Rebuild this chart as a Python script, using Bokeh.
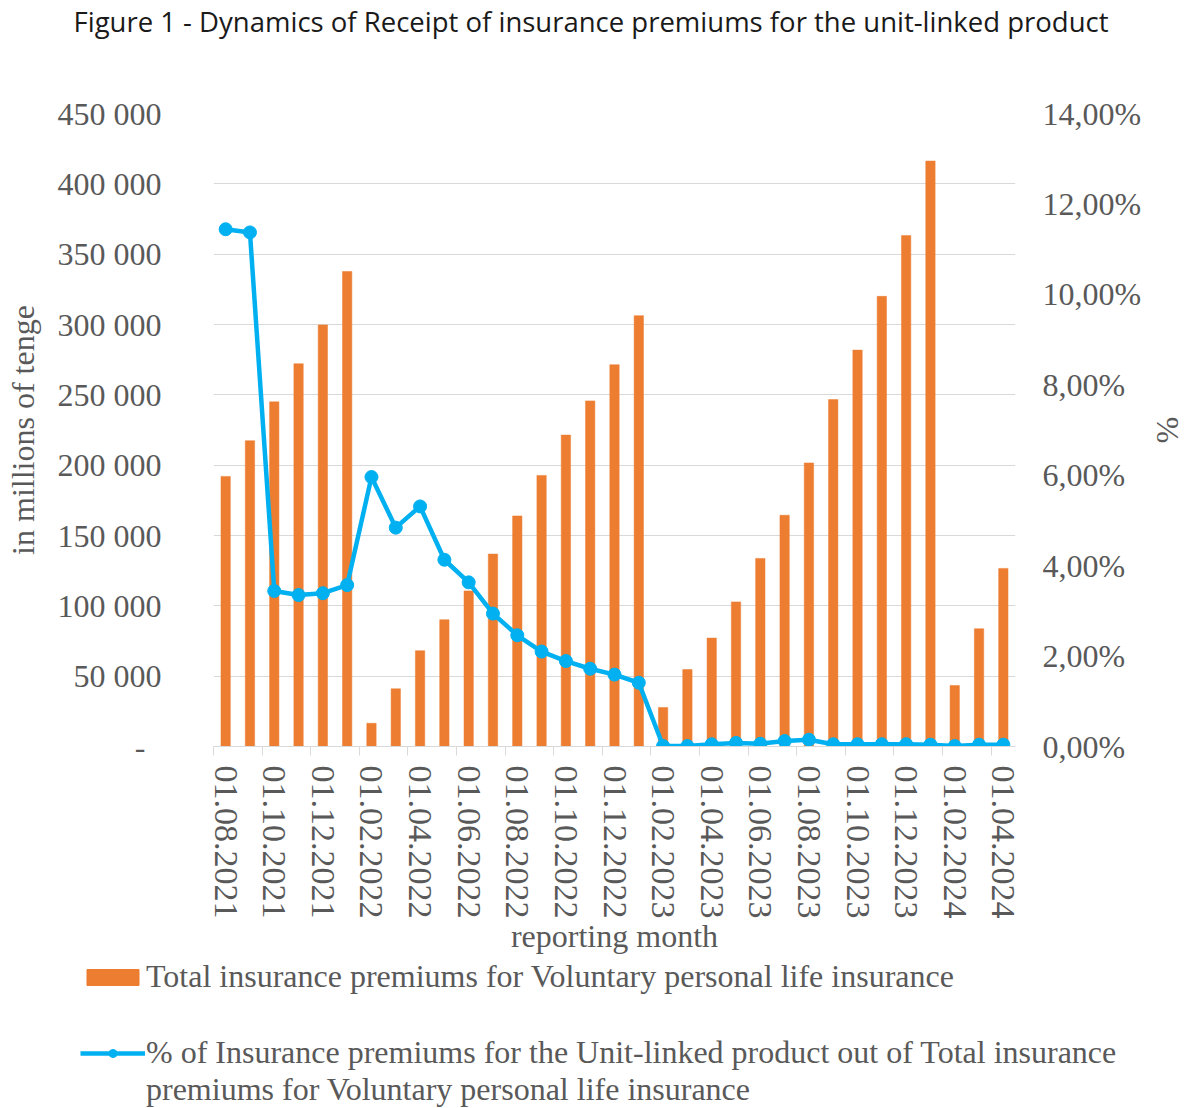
from bokeh.plotting import figure
from bokeh.layouts import column
from bokeh.models import Range1d, LinearAxis, FixedTicker, Legend, LegendItem, Title
from bokeh.embed import file_html
from bokeh.resources import INLINE

# ---- data ----
months = [
    "01.08.2021", "01.09.2021", "01.10.2021", "01.11.2021", "01.12.2021",
    "01.01.2022", "01.02.2022", "01.03.2022", "01.04.2022", "01.05.2022",
    "01.06.2022", "01.07.2022", "01.08.2022", "01.09.2022", "01.10.2022",
    "01.11.2022", "01.12.2022", "01.01.2023", "01.02.2023", "01.03.2023",
    "01.04.2023", "01.05.2023", "01.06.2023", "01.07.2023", "01.08.2023",
    "01.09.2023", "01.10.2023", "01.11.2023", "01.12.2023", "01.01.2024",
    "01.02.2024", "01.03.2024", "01.04.2024",
]
premiums = [
    192000, 217400, 245000, 272100, 299700, 337700,
    16500, 41000, 68100, 90100, 110600, 136800, 163900, 192700, 221400, 245700, 271400, 306300,
    27800, 54700, 77100, 102800, 133700, 164400, 201600, 246600, 281800, 320000, 363200, 416200,
    43400, 83700, 126600,
]
unit_linked_pct = [
    11.44, 11.37, 3.44, 3.35, 3.39, 3.57,
    5.96, 4.84, 5.31, 4.13, 3.63, 2.94, 2.46, 2.10, 1.89, 1.72, 1.59, 1.41,
    0.01, 0.01, 0.05, 0.08, 0.06, 0.12, 0.15, 0.05, 0.05, 0.05, 0.05, 0.04,
    0.01, 0.04, 0.04,
]
left_ticks = [0, 50000, 100000, 150000, 200000, 250000, 300000, 350000, 400000, 450000]
right_ticks = [0, 2, 4, 6, 8, 10, 12, 14]

title_text = "Figure 1 - Dynamics of Receipt of insurance premiums for the unit-linked product"
bar_label = "Total insurance premiums for Voluntary personal life insurance"
line_label_1 = "% of Insurance premiums for the Unit-linked product out of Total insurance"
line_label_2 = "premiums for Voluntary personal life insurance"

ORANGE = "#ED7D31"
BLUE = "#00B0F0"
GREY_TXT = "#595959"
GRID = "#D9D9D9"
SERIF = "Liberation Serif"

x = list(range(len(months)))

# ================= main chart =================
p = figure(width=1190, height=956, output_backend="svg", toolbar_location=None,
           title=None,
           x_range=Range1d(-0.5, len(months) - 0.5),
           y_range=Range1d(left_ticks[0], left_ticks[-1]),
           min_border_left=213, min_border_right=175,
           min_border_top=112, min_border_bottom=209)
p.frame_align = False
p.outline_line_color = None
p.background_fill_color = "white"
p.border_fill_color = "white"

p.extra_y_ranges = {"pct": Range1d(right_ticks[0], right_ticks[-1])}

bars = p.vbar(x=x, top=premiums, width=0.385, fill_color=ORANGE, line_color=ORANGE, line_width=0.5)
ln = p.line(x=x, y=unit_linked_pct, y_range_name="pct", line_color=BLUE, line_width=4.5)
sc = p.scatter(x=x, y=unit_linked_pct, y_range_name="pct", size=13, marker="circle",
               fill_color=BLUE, line_color=BLUE)

# x axis
xa = p.xaxis[0]
xa.ticker = FixedTicker(ticks=x[::2], minor_ticks=[i - 0.5 for i in x[::2]])
xa.major_label_overrides = {i: months[i] for i in x[::2]}
xa.major_label_orientation = "vertical"
xa.major_tick_line_color = None
xa.major_tick_out = 0
xa.major_tick_in = 0
xa.minor_tick_line_color = GRID
xa.minor_tick_out = 9
xa.minor_tick_in = 0
xa.axis_line_color = GRID
xa.major_label_standoff = 10
xa.major_label_text_font = SERIF
xa.major_label_text_font_size = "34px"
xa.major_label_text_color = GREY_TXT
xa.axis_label = "reporting month"
xa.axis_label_text_font = SERIF
xa.axis_label_text_font_size = "32px"
xa.axis_label_text_font_style = "normal"
xa.axis_label_text_color = GREY_TXT
xa.axis_label_standoff = -4

# left axis
ya = p.yaxis[0]
ya.ticker = FixedTicker(ticks=left_ticks)
ya.major_label_overrides = {t: ("-\u00a0\u00a0" if t == 0 else f"{t:,}".replace(",", " ")) for t in left_ticks}
ya.axis_line_color = None
ya.major_tick_line_color = None
ya.minor_tick_line_color = None
ya.major_tick_out = 0
ya.major_tick_in = 0
ya.major_label_standoff = 52
ya.major_label_text_font = SERIF
ya.major_label_text_font_size = "32px"
ya.major_label_text_color = GREY_TXT
ya.axis_label = "in millions of tenge"
ya.axis_label_text_font = SERIF
ya.axis_label_text_font_size = "32px"
ya.axis_label_text_font_style = "normal"
ya.axis_label_text_color = GREY_TXT
ya.axis_label_standoff = 14

# right axis
ra = LinearAxis(y_range_name="pct", ticker=FixedTicker(ticks=right_ticks))
ra.major_label_overrides = {t: f"{t:.2f}%".replace(".", ",") for t in right_ticks}
ra.axis_line_color = None
ra.major_tick_line_color = None
ra.minor_tick_line_color = None
ra.major_tick_out = 0
ra.major_tick_in = 0
ra.major_label_standoff = 27
ra.major_label_text_font = SERIF
ra.major_label_text_font_size = "32px"
ra.major_label_text_color = GREY_TXT
ra.axis_label = "%"
ra.axis_label_text_font = SERIF
ra.axis_label_text_font_size = "32px"
ra.axis_label_text_font_style = "normal"
ra.axis_label_text_color = GREY_TXT
ra.axis_label_standoff = 6
p.add_layout(ra, "right")

# grid
p.xgrid.visible = False
p.ygrid.ticker = FixedTicker(ticks=left_ticks)
p.ygrid.grid_line_color = GRID
p.ygrid.grid_line_width = 1.2

# title: a blank spacer next to the frame, the real title above it
spacer = Title(text=" ", text_font_size="10px", standoff=61)
p.add_layout(spacer, "above")
title = Title(text=title_text, align="left", offset=-140, vertical_align="bottom",
              text_font="Open Sans", text_font_size="27.5px", text_font_style="normal",
              text_color="#1a1a1a", standoff=0)
p.add_layout(title, "above")

# ================= legend strip =================
# the legend proxies carry the same series, but this strip's ranges show none of it
lg = figure(width=1190, height=152, output_backend="svg", toolbar_location=None,
            title=None, x_range=Range1d(-20, -19), y_range=Range1d(-20, -19),
            min_border_left=80, min_border_right=0, min_border_top=2, min_border_bottom=0)
lg.frame_align = False
lg.outline_line_color = None
lg.axis.visible = False
lg.grid.visible = False
lg_bar = lg.vbar(x=x, top=premiums, width=0.385, fill_color=ORANGE, line_color=ORANGE)
lg_line = lg.line(x=x, y=unit_linked_pct, line_color=BLUE, line_width=4.5)
lg_dot = lg.scatter(x=x, y=unit_linked_pct, size=11, marker="circle", fill_color=BLUE, line_color=BLUE)
lg_blank = lg.line(x=x, y=unit_linked_pct, line_alpha=0)

legend_style = dict(orientation="vertical", glyph_width=65, glyph_height=20, label_standoff=1,
                    padding=0, margin=0, border_line_color=None, background_fill_alpha=0,
                    label_text_font=SERIF, label_text_font_size="32px",
                    label_text_color=GREY_TXT)

legend_bar = Legend(items=[LegendItem(label=bar_label, renderers=[lg_bar])],
                    location="top_left", spacing=0, **legend_style)
legend_line = Legend(items=[LegendItem(label=line_label_1, renderers=[lg_line, lg_dot]),
                            LegendItem(label=line_label_2, renderers=[lg_blank])],
                     location="bottom_left", spacing=0, **legend_style)
lg.add_layout(legend_bar, "center")
lg.add_layout(legend_line, "center")

open("out.html", "w").write(file_html(column(p, lg, spacing=0), INLINE))
